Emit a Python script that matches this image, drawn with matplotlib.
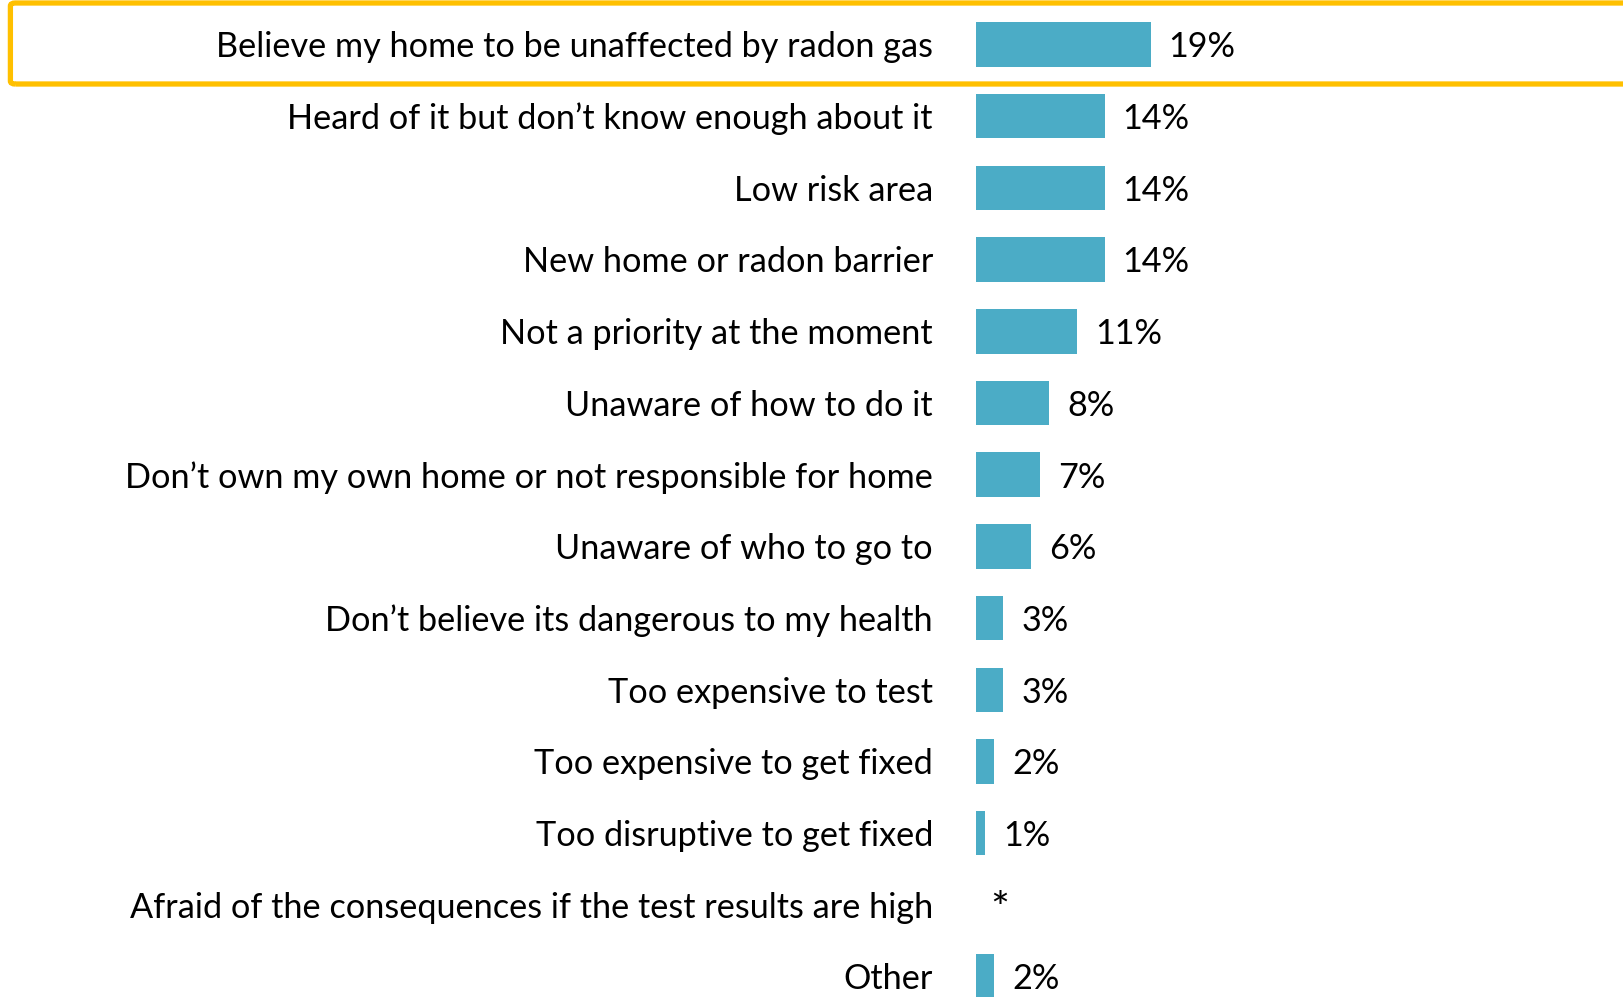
import matplotlib.pyplot as plt
from matplotlib.patches import FancyBboxPatch

# ---- Data ----
reasons = [
    "Believe my home to be unaffected by radon gas",
    "Heard of it but don\u2019t know enough about it",
    "Low risk area",
    "New home or radon barrier",
    "Not a priority at the moment",
    "Unaware of how to do it",
    "Don\u2019t own my own home or not responsible for home",
    "Unaware of who to go to",
    "Don\u2019t believe its dangerous to my health",
    "Too expensive to test",
    "Too expensive to get fixed",
    "Too disruptive to get fixed",
    "Afraid of the consequences if the test results are high",
    "Other",
]
shares = [19, 14, 14, 14, 11, 8, 7, 6, 3, 3, 2, 1, 0, 2]
share_labels = ["19%", "14%", "14%", "14%", "11%", "8%", "7%", "6%",
                "3%", "3%", "2%", "1%", "*", "2%"]

# ---- Layout (pixels) ----
W, H = 1624, 997
bar_x0 = 975.6      # left edge of the bars
px_per_pct = 9.21
row_pitch = 71.7
first_row = 44.5
bar_color = "#4BACC6"
box_color = "#FFC000"
fs = 24.7

plt.rcParams["font.family"] = ["Lato", "DejaVu Sans"]

fig = plt.figure(figsize=(W / 100, H / 100), dpi=100)
ax = fig.add_axes([bar_x0 / W, 0, 1 - bar_x0 / W, 1])
ax.set_xlim(0, (W - bar_x0) / px_per_pct)
ax.set_ylim((H - first_row) / row_pitch, -first_row / row_pitch)
ax.axis("off")

rows = list(range(len(reasons)))
ax.barh(rows, shares, height=0.62, color=bar_color, edgecolor="none")

label_x = (933 - bar_x0) / px_per_pct
gap = 18 / px_per_pct
for i, (name, val, txt) in enumerate(zip(reasons, shares, share_labels)):
    ax.text(label_x, i + 0.04, name, ha="right", va="center", fontsize=fs,
            color="black", clip_on=False)
    if txt == "*":
        ax.text(2.6, i + 0.08, txt, ha="center", va="center", fontsize=32,
                color="black")
    else:
        ax.text(val + gap, i + 0.04, txt, ha="left", va="center", fontsize=fs,
                color="black")

# highlight around the top reason
box = FancyBboxPatch((10.4 / W, 1 - 84 / H), (W + 40) / W, 81 / H,
                     boxstyle="round,pad=0,rounding_size=0.003",
                     transform=fig.transFigure, fill=False,
                     edgecolor=box_color, linewidth=3.8, clip_on=False)
fig.patches.append(box)

fig.savefig("out.png", dpi=100)
